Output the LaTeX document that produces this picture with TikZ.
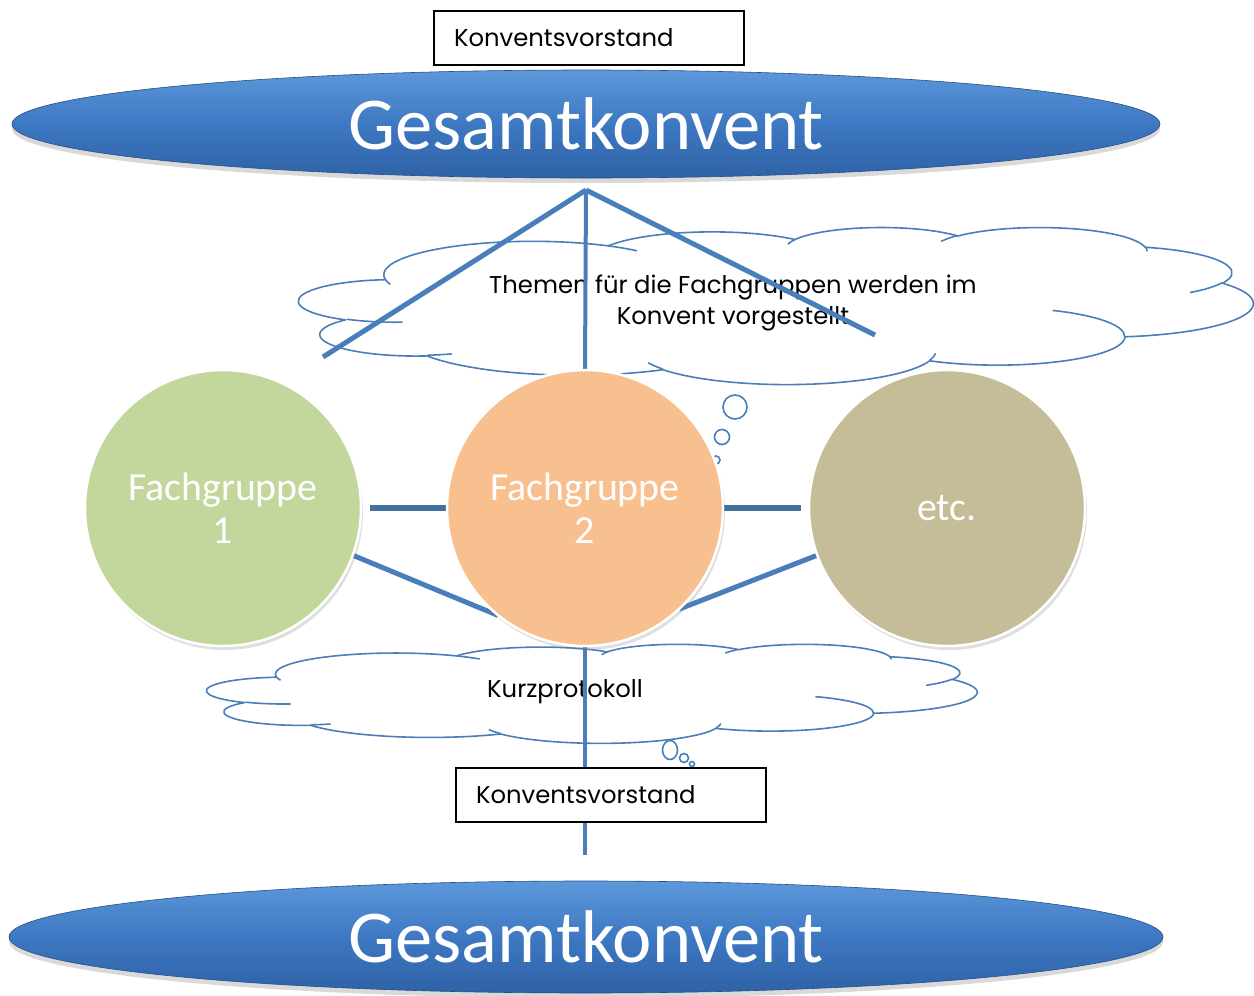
\documentclass[tikz,border=0pt]{standalone}
\usepackage{fontspec}
\newfontfamily\carl{Carlito}
\newfontfamily\goth{Poppins}
\usetikzlibrary{shapes.geometric,shadows}
\definecolor{linec}{HTML}{4A7EBB}
\definecolor{linedk}{HTML}{41719C}
\definecolor{gktop}{HTML}{5C98DA}
\definecolor{gkmid}{HTML}{3D78C2}
\definecolor{gkbot}{HTML}{2F62A6}
\definecolor{fgA}{HTML}{C3D69B}
\definecolor{fgB}{HTML}{F9C08F}
\definecolor{fgC}{HTML}{C4BD97}
% convert a DrawingML arcTo (visual angles) into a TikZ arc style
\newcommand\cvt[5]{%
  \pgfmathsetmacro\cvA{atan2((#2)*sin(#4),(#3)*cos(#4))}%
  \pgfmathsetmacro\cvB{atan2((#2)*sin((#4)+(#5)),(#3)*cos((#4)+(#5)))}%
  \pgfmathsetmacro\cvD{\cvB-\cvA}%
  \pgfmathsetmacro\cvD{\cvD+360*and((#5)>0,\cvD<0)-360*and((#5)<0,\cvD>0)}%
  \edef\cvtmp{\noexpand\tikzset{#1/.style={start angle=\cvA, delta angle=\cvD, x radius=#2, y radius=#3}}}%
  \cvtmp}
\cvt{ca1}{675.3}{919.0}{-190.4875}{123.7805}
\cvt{ca2}{533.3}{726.7}{-144.1024}{89.9452}
\cvt{ca3}{436.5}{594.5}{-145.8079}{99.7230}
\cvt{ca4}{485.7}{659.5}{-130.9861}{117.2417}
\cvt{ca5}{533.3}{727.3}{-78.7089}{109.0269}
\cvt{ca6}{677.5}{922.0}{-46.2673}{130.2690}
\cvt{ca7}{578.5}{786.7}{0.6250}{114.0333}
\cvt{ca8}{675.2}{921.5}{22.4516}{115.1726}
\cvt{ca9}{772.0}{1054.3}{66.2426}{75.7110}
\cvt{ca10}{436.0}{591.8}{-274.9421}{146.7356}
\cvt{ca11}{434.5}{594.5}{-246.8285}{152.5189}
\cvt{ci1}{434.5}{594.5}{86.7420}{26.4295}
\cvt{ci2}{436.0}{591.8}{73.6105}{11.4475}
\cvt{ci3}{675.2}{921.5}{137.6242}{14.0811}
\cvt{ci4}{675.2}{921.5}{6.4533}{15.9984}
\cvt{ci5}{578.5}{786.7}{-70.2924}{70.9174}
\cvt{ci6}{533.3}{727.3}{30.3180}{27.7515}
\cvt{ci7}{485.7}{659.5}{-13.7443}{14.8589}
\cvt{ci8}{485.7}{659.5}{-149.1815}{18.1954}
\cvt{ci9}{436.5}{594.5}{-163.4943}{17.6864}
\cvt{ci10}{675.3}{919.0}{-66.7070}{12.3194}
\cvt{ci11}{675.3}{919.0}{157.6544}{11.8582}
\tikzset{
  cloudline/.style={draw=linec, line width=1.6pt, line join=round},
  pptcloud/.pic={
    \draw[cloudline, fill=white] (390,1437) arc[ca1] arc[ca2] arc[ca3] arc[ca4] arc[ca5] arc[ca6]
      arc[ca7] arc[ca8] arc[ca9] arc[ca10] arc[ca11] -- cycle;
    \draw[cloudline] (469.3,2617.7) arc[ci1] (692.8,3489.9) arc[ci2] (1647.8,3909.0) arc[ci3]
      (2882.7,3475.1) arc[ci4] (3412.9,2295.4) arc[ci5] (4179.8,1535.4) arc[ci6]
      (3832.4,542.6) arc[ci7] (2907.8,395.2) arc[ci8] (2214.1,472.0) arc[ci9]
      (1400.0,519.2) arc[ci10] (412.7,1578.9) arc[ci11];
  },
  boxst/.style={draw=black, line width=1.5pt, fill=white, text width=270pt, align=left, inner xsep=20pt, inner ysep=0pt, minimum height=54, font=\goth\fontsize{24.3}{28}\selectfont},
  gkst/.style={ellipse, minimum width=1148, minimum height=108, inner sep=0, top color=gktop, bottom color=gkbot, middle color=gkmid, draw=gkbot!80!black, line width=0.6pt, text=white, font=\carl\fontsize{74.6}{80}\selectfont, drop shadow={shadow xshift=0pt, shadow yshift=-5pt, opacity=0.3}},
  cloudtext/.style={align=center, font=\goth\fontsize{24.3}{31}\selectfont, text=black},
  bubble/.style={circle, draw=linec, line width=1.6pt, fill=white, inner sep=0},
  fgst/.style={circle, minimum size=276, inner sep=0, draw=white, line width=2.5pt, text=white, align=center, font=\carl\fontsize{39.8}{43}\selectfont, drop shadow={shadow xshift=2pt, shadow yshift=-4pt, opacity=0.25}},
  conn/.style={draw=linec, line width=5pt},
  connv/.style={draw=linec, line width=4pt},
  connh/.style={draw=linedk, line width=6pt},
}
\begin{document}
\begin{tikzpicture}[x=1pt,y=-1pt]
\useasboundingbox (0,0) rectangle (1254,996);
% clouds
\begin{scope}[shift={(299,227)}, x=0.220833pt, y=-0.036343pt]
  \pic {pptcloud};
\end{scope}
\begin{scope}[shift={(207,644)}, x=0.178241pt, y=-0.0229167pt]
  \pic {pptcloud};
\end{scope}
% thought bubbles
\node[bubble, minimum size=24] (b1) at (735,407) {};
\node[bubble, minimum size=15] (b2) at (722,437) {};
\node[bubble, minimum size=8] (b3) at (716,460) {};
\node[bubble, ellipse, minimum width=15, minimum height=19] (b4) at (670,750) {};
\node[bubble, minimum size=9] (b5) at (684,758) {};
\node[bubble, minimum size=5] (b6) at (692,764) {};
% cloud texts
\node[cloudtext] (t1) at (733,303) {Themen für die Fachgruppen werden im\\Konvent vorgestellt};
\node[cloudtext] (t2) at (565,692) {Kurzprotokoll};
% coordinates
\coordinate (apex) at (586,190);
\coordinate (lfoot) at (323,357);
\coordinate (rfoot) at (875,335);
\coordinate (bot) at (585,855);
% circle placeholders for connectors
\node[circle, minimum size=276, inner sep=0] (fg1p) at (223,508) {};
\node[circle, minimum size=276, inner sep=0] (fg2p) at (585,508) {};
\node[circle, minimum size=276, inner sep=0] (fg3p) at (947,508) {};
% connectors
\draw[conn] (apex) -- (lfoot);
\draw[conn] (apex) -- (rfoot);
\draw[connv] (apex) -- (fg2p.north);
\draw[connv] (fg2p.south) -- (bot);
\draw[connh, shorten <=9pt] (fg1p.east) -- (fg2p.west);
\draw[connh, shorten >=8pt] (fg2p.east) -- (fg3p.west);
\draw[conn] (fg1p.-20) -- (fg2p.-129);
\draw[conn] (fg3p.200) -- (fg2p.-47);
% circles
\node[fgst, fill=fgA] (fg1) at (223,508) {Fachgruppe\\1};
\node[fgst, fill=fgB] (fg2) at (585,508) {Fachgruppe\\2};
\node[fgst, fill=fgC] (fg3) at (947,508) {etc.};
% ellipses
\node[gkst] (gk1) at (586,124) {Gesamtkonvent};
\node[gkst, minimum width=1154, minimum height=112] (gk2) at (586,937) {Gesamtkonvent};
% boxes
\node[boxst] (box1) at (589,38) {Konventsvorstand};
\node[boxst] (box2) at (611,795) {Konventsvorstand};
\end{tikzpicture}
\end{document}
